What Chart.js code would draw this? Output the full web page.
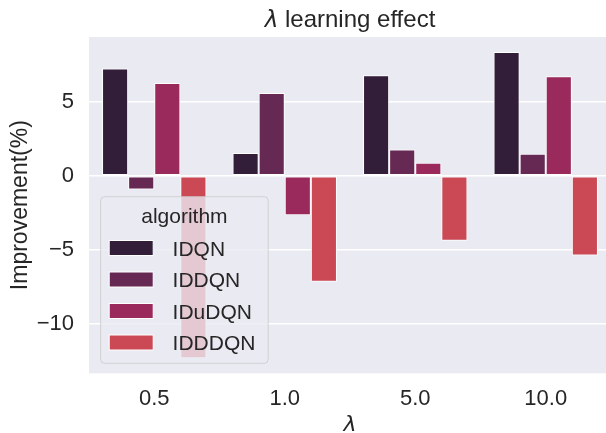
<!DOCTYPE html>
<html>
<head>
<meta charset="utf-8">
<script src="https://cdn.jsdelivr.net/npm/chart.js@4.4.1/dist/chart.umd.min.js"></script>
<style>
  html, body { margin: 0; padding: 0; background: #fff; overflow: hidden; }
  #wrap { width: 606px; height: 433px; overflow: hidden; }
</style>
</head>
<body>
<div id="wrap"><canvas id="chart" width="611" height="433"></canvas></div>
<script>
// lambda values on the x axis, one group of bars each
const lambdas = ['0.5', '1.0', '5.0', '10.0'];
const algorithms = ['IDQN', 'IDDQN', 'IDuDQN', 'IDDDQN'];

// improvement (%) per algorithm
const idqn   = [7.26, 1.55, 6.80, 8.38];
const iddqn  = [-0.92, 5.61, 1.78, 1.49];
const idudqn = [6.28, -2.66, 0.88, 6.74];
const idddqn = [-12.34, -7.16, -4.39, -5.38];

const yTicks = [-10, -5, 0, 5];

// seaborn "rocket" palette, desaturated like barplot does
const colors = ['#331e39', '#662953', '#9a2a5b', '#cb4954'];
const textColor = '#262626';
const fontFamily = '"Liberation Sans", Arial, sans-serif';
const mathFont = '"DejaVu Sans", sans-serif';

const series = [idqn, iddqn, idudqn, idddqn];

// grey panel behind the plot
const panelBg = {
  id: 'panelBg',
  beforeDraw(chart) {
    const { ctx, chartArea: a } = chart;
    ctx.save();
    ctx.fillStyle = '#eaeaf2';
    ctx.fillRect(a.left, a.top, a.right - a.left, a.bottom - a.top);
    ctx.restore();
  }
};

// title centred over the plot area, lambda in mathtext style
const axesTitle = {
  id: 'axesTitle',
  afterDraw(chart) {
    const { ctx, chartArea: a } = chart;
    const lam = '\u03bb', rest = ' learning effect';
    ctx.save();
    ctx.fillStyle = textColor;
    ctx.textBaseline = 'alphabetic';
    ctx.textAlign = 'left';
    ctx.font = 'italic 23px ' + mathFont;
    const w1 = ctx.measureText(lam).width;
    ctx.font = '24px ' + fontFamily;
    const w2 = ctx.measureText(rest).width;
    let x = (a.left + a.right) / 2 - (w1 + w2) / 2;
    ctx.font = 'italic 23px ' + mathFont;
    ctx.fillText(lam, x, 26.5);
    ctx.font = '24px ' + fontFamily;
    ctx.fillText(rest, x + w1, 26.5);
    ctx.restore();
  }
};

// matplotlib-like framed legend in the lower left of the axes
const boxLegend = {
  id: 'boxLegend',
  afterDraw(chart) {
    const { ctx, chartArea: a } = chart;
    const w = 167.6, h = 166.6;
    const x = a.left + 11.6, y = a.bottom - 10 - h;
    ctx.save();
    ctx.beginPath();
    ctx.roundRect(x, y, w, h, 4);
    ctx.fillStyle = 'rgba(234,234,242,0.8)';
    ctx.fill();
    ctx.strokeStyle = 'rgba(204,204,204,0.8)';
    ctx.lineWidth = 1;
    ctx.stroke();

    ctx.fillStyle = textColor;
    ctx.font = '21px ' + fontFamily;
    ctx.textBaseline = 'alphabetic';
    ctx.textAlign = 'center';
    ctx.fillText('algorithm', x + w / 2, y + 26.6);

    ctx.textAlign = 'left';
    chart.data.datasets.forEach((ds, i) => {
      const base = y + 58.8 + i * 31.5;
      ctx.fillStyle = ds.backgroundColor;
      ctx.fillRect(x + 8.6, base - 15, 44, 15);
      ctx.strokeStyle = '#ffffff';
      ctx.lineWidth = 1;
      ctx.strokeRect(x + 8.6, base - 15, 44, 15);
      ctx.fillStyle = textColor;
      ctx.fillText(ds.label, x + 72, base);
    });
    ctx.restore();
  }
};

const minus = v => (v < 0 ? '\u2212' + Math.abs(v) : String(v));

new Chart(document.getElementById('chart'), {
  type: 'bar',
  data: {
    labels: lambdas,
    datasets: algorithms.map((name, i) => ({
      label: name,
      data: series[i],
      backgroundColor: colors[i],
      borderColor: '#ffffff',
      borderWidth: 1,
      borderSkipped: false,
      categoryPercentage: 0.8,
      barPercentage: 1.0
    }))
  },
  options: {
    responsive: false,
    animation: false,
    devicePixelRatio: 1,
    layout: { padding: { top: 37, right: 0, bottom: 0, left: 0 } },
    plugins: {
      legend: { display: false },
      title: { display: false },
      tooltip: { enabled: false }
    },
    scales: {
      x: {
        grid: { display: false, drawTicks: false },
        border: { display: false },
        ticks: { color: textColor, font: { family: fontFamily, size: 22 }, padding: 12 },
        title: {
          display: true, text: '\u03bb', color: textColor,
          font: { family: mathFont, size: 22, style: 'italic', lineHeight: 0.7 },
          padding: { top: 0, bottom: 0 }
        },
        afterFit(scale) { scale.height = 59.7; }
      },
      y: {
        min: -13.35,
        max: 9.39,
        grid: { color: '#ffffff', lineWidth: 1.5, drawTicks: false },
        border: { display: false },
        afterBuildTicks(scale) { scale.ticks = yTicks.map(v => ({ value: v })); },
        ticks: {
          color: textColor,
          font: { family: fontFamily, size: 22 },
          padding: 15,
          callback: v => minus(v)
        },
        title: {
          display: true, text: 'Improvement(%)', color: textColor,
          font: { family: fontFamily, size: 23 },
          padding: { top: 7, bottom: 0 }
        },
        afterFit(scale) { scale.width = 89; }
      }
    }
  },
  plugins: [panelBg, axesTitle, boxLegend]
});
</script>
</body>
</html>
